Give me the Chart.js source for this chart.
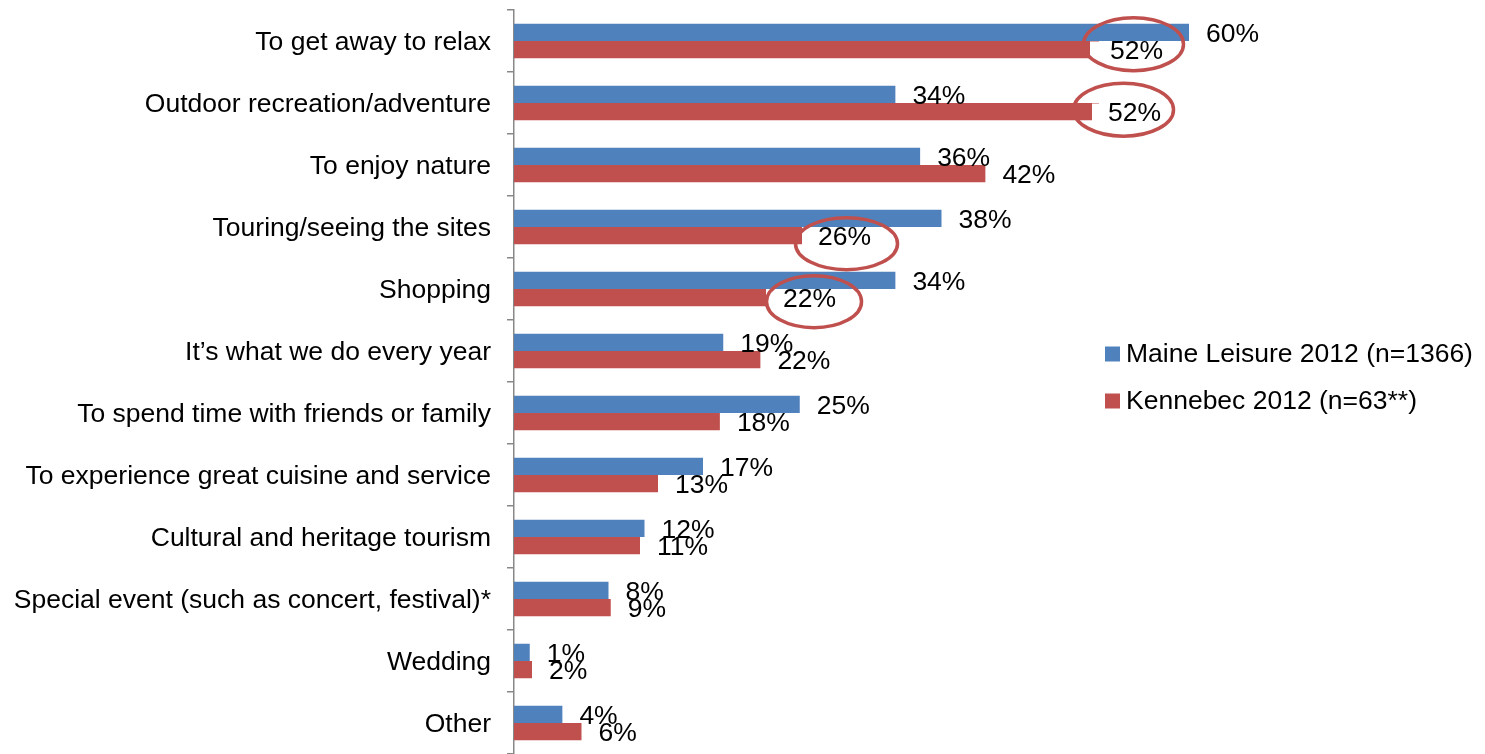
<!DOCTYPE html>
<html>
<head>
<meta charset="utf-8">
<script src="https://cdn.jsdelivr.net/npm/chart.js@4"></script>
<style>
  html, body { margin: 0; padding: 0; background: #ffffff; }
  #wrap { width: 1485px; height: 754px; position: relative; }
</style>
</head>
<body>
<div id="wrap"><canvas id="c" width="1485" height="754"></canvas></div>
<script>
const categories = [
  "To get away to relax",
  "Outdoor recreation/adventure",
  "To enjoy nature",
  "Touring/seeing the sites",
  "Shopping",
  "It\u2019s what we do every year",
  "To spend time with friends or family",
  "To experience great cuisine and service",
  "Cultural and heritage tourism",
  "Special event (such as concert, festival)*",
  "Wedding",
  "Other"
];
const maineLeisure = [60, 33.9, 36.1, 38.0, 33.9, 18.6, 25.4, 16.8, 11.6, 8.4, 1.4, 4.3];
const kennebec = [52, 52, 41.9, 25.6, 22.4, 21.9, 18.3, 12.8, 11.2, 8.6, 1.6, 6.0];
const seriesNames = ["Maine Leisure 2012 (n=1366)", "Kennebec 2012 (n=63**)"];

const BLUE = "#4F81BD";
const RED = "#C0504D";
const FONT = '"Liberation Sans", Arial, sans-serif';
const FSIZE = 26.5;

// circled labels (annotation styling)
const highlights = [
  { cat: 0, ds: 1, dx: 11, pad: 20, ex: -3, ey: -7.5, rx: 50, ry: 26.5 },
  { cat: 1, ds: 1, dx: 9, pad: 16, ex: -11, ey: -4, rx: 50, ry: 26.5 },
  { cat: 3, ds: 1, dx: 16, pad: 16, ex: 2, ey: 6, rx: 51, ry: 26 },
  { cat: 4, ds: 1, dx: 17, pad: 16, ex: 4.5, ey: 2, rx: 47.5, ry: 26 }
];

const labelPlugin = {
  id: 'valueLabels',
  afterDatasetsDraw(chart) {
    const ctx = chart.ctx;
    ctx.save();
    ctx.font = FSIZE + 'px ' + FONT;
    ctx.textBaseline = 'middle';
    ctx.textAlign = 'left';
    ctx.fillStyle = '#000';
    const rings = [];
    chart.data.datasets.forEach((ds, di) => {
      const meta = chart.getDatasetMeta(di);
      meta.data.forEach((el, i) => {
        const txt = Math.round(ds.data[i]) + '%';
        const h = highlights.find(o => o.cat === i && o.ds === di);
        const dx = h ? h.dx : 17;
        const tx = el.x + dx;
        const ty = el.y + 2;
        const w = ctx.measureText(txt).width;
        if (h) {
          ctx.fillStyle = '#fff';
          ctx.fillRect(tx - h.pad, el.y - el.height / 2 + 0.5, w + h.pad + 4, el.height + 4);
          ctx.fillStyle = '#000';
          rings.push({ x: tx + w / 2 + h.ex, y: ty + h.ey, rx: h.rx, ry: h.ry });
        }
        ctx.fillText(txt, tx, ty);
      });
    });
    ctx.strokeStyle = RED;
    ctx.lineWidth = 3.5;
    rings.forEach(r => {
      ctx.beginPath();
      ctx.ellipse(r.x, r.y, r.rx, r.ry, 0, 0, Math.PI * 2);
      ctx.stroke();
    });
    // legend
    const lx = 1105, ly = [354, 401];
    chart.data.datasets.forEach((ds, di) => {
      ctx.fillStyle = ds.backgroundColor;
      ctx.fillRect(lx, ly[di] - 7.5, 15, 15);
      ctx.fillStyle = '#000';
      ctx.fillText(ds.label, lx + 21, ly[di] + 1);
    });
    ctx.restore();
  }
};

new Chart(document.getElementById('c'), {
  type: 'bar',
  data: {
    labels: categories,
    datasets: [
      { label: seriesNames[0], data: maineLeisure, backgroundColor: BLUE, borderWidth: 0 },
      { label: seriesNames[1], data: kennebec, backgroundColor: RED, borderWidth: 0 }
    ]
  },
  options: {
    indexAxis: 'y',
    responsive: false,
    animation: false,
    devicePixelRatio: 1,
    categoryPercentage: 0.56,
    barPercentage: 1.0,
    layout: { padding: { top: 10, right: 183.5, bottom: 0, left: 0 } },
    plugins: { legend: { display: false }, tooltip: { enabled: false } },
    scales: {
      x: { display: false, min: 0, max: 70 },
      y: {
        afterFit(scale) { scale.width = 514; scale.paddingTop = 0; scale.paddingBottom = 0; },
        grid: { drawOnChartArea: false, drawTicks: true, tickLength: 7, color: '#888', lineWidth: 1.5, offset: true },
        border: { display: true, color: '#888', width: 1.5 },
        ticks: { autoSkip: false, padding: 16, labelOffset: 2, color: '#000', font: { family: FONT, size: FSIZE } }
      }
    }
  },
  plugins: [labelPlugin]
});
</script>
</body>
</html>
